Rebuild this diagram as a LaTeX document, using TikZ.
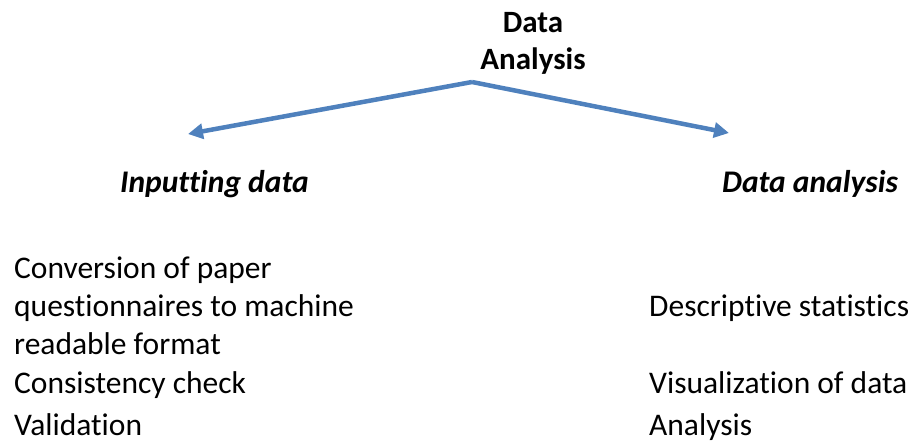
\documentclass[tikz,border=0pt]{standalone}
\usepackage{fontspec}
\setmainfont{Carlito}[Ligatures={NoCommon}]
\usetikzlibrary{arrows.meta}
\definecolor{arrowblue}{HTML}{4F81BD}
\tikzset{
  txt/.style={anchor=base west, inner sep=0pt, font=\fontsize{31.5}{36}\selectfont},
  head/.style={anchor=base, inner sep=0pt, font=\fontsize{31}{36}\selectfont\bfseries},
  sub/.style={anchor=base west, inner sep=0pt, font=\fontsize{31.5}{36}\selectfont\bfseries\itshape},
  conn/.style={arrowblue, line width=4.5pt, -{Triangle[length=15pt,width=15pt]}},
}
\begin{document}
\begin{tikzpicture}[x=1pt,y=-1pt]
\useasboundingbox (0,0) rectangle (915,444);
\node[head] (t1) at (533,33) {Data};
\node[head] (t2) at (533,70) {Analysis};
\coordinate (apex) at (472,82);
\coordinate (lt) at (188,134);
\coordinate (rt) at (729,133);
\draw[conn, line join=round] (apex) -- (lt);
\draw[conn, line join=round] (apex) -- (rt);
\node[sub] (inp) at (120,192) {Inputting data};
\node[sub] (dan) at (722,192) {Data analysis};
\node[txt] (l1) at (14,278) {Conversion of paper};
\node[txt] (l2) at (14,316) {questionnaires to machine};
\node[txt] (l3) at (14,354) {readable format};
\node[txt] (l4) at (14,393) {Consistency check};
\node[txt] (l5) at (14,435) {Validation};
\node[txt] (r1) at (649,316) {Descriptive statistics};
\node[txt] (r2) at (649,393) {Visualization of data};
\node[txt] (r3) at (649,435) {Analysis};
\end{tikzpicture}
\end{document}
